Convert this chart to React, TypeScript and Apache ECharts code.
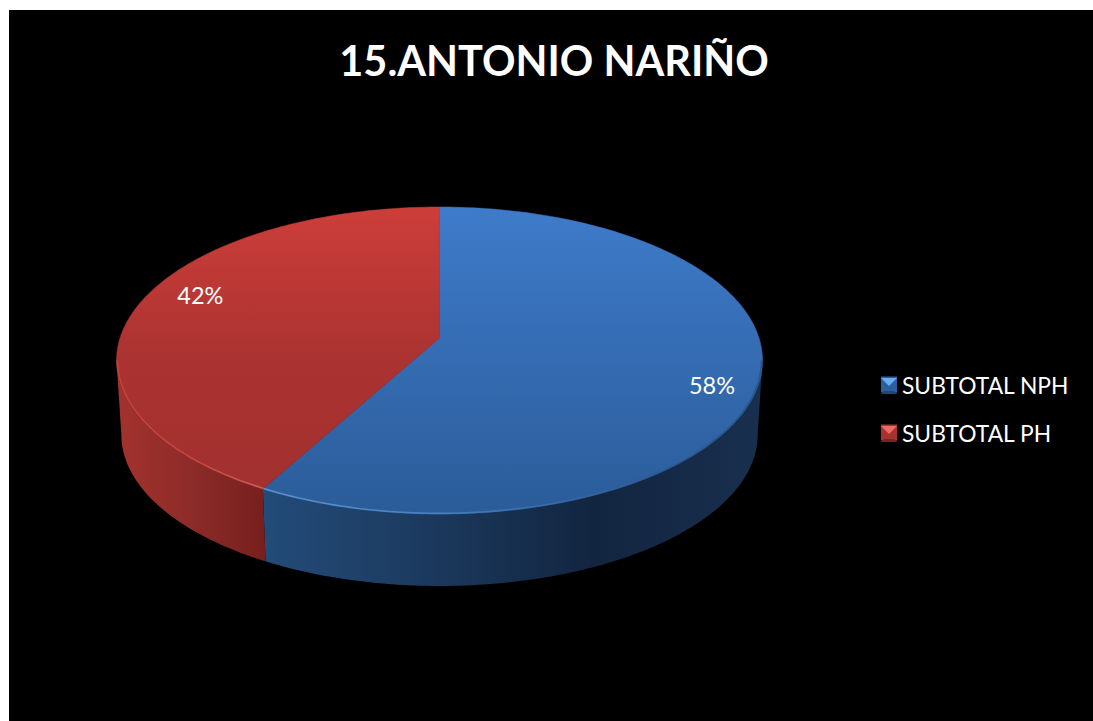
import React, { useEffect, useRef } from "react";
import * as echarts from "echarts";

const titleText = "15.ANTONIO NARIÑO";
const categories = ["SUBTOTAL NPH", "SUBTOTAL PH"];
const shares = [58, 42];

// Perspective disc: unit circle (u, v), v toward the viewer.
const CX = 439.5;
const APEX_Y = 338;
const HALF_W = 319.5;
const HALF_H = 150.2;
const PERSPECTIVE = 0.1466;
const BASE_DROP = 74.6;
const BASE_SCALE = 0.985;

const total = shares.reduce((a, b) => a + b, 0);

function project(deg: number, radius = 1, base = false) {
  const t = (deg * Math.PI) / 180;
  const u = Math.sin(t) * radius;
  const v = -Math.cos(t) * radius;
  const s = 1 / (1 - PERSPECTIVE * v);
  const k = base ? BASE_SCALE : 1;
  return [CX + HALF_W * u * s * k, APEX_Y + (base ? BASE_DROP : 0) + HALF_H * v * s * k];
}

function arc(from: number, to: number, radius = 1, base = false) {
  const pts: number[][] = [];
  const n = Math.max(2, Math.ceil(Math.abs(to - from)));
  for (let i = 0; i <= n; i++) pts.push(project(from + ((to - from) * i) / n, radius, base));
  return pts;
}

const vGrad = (stops: [number, string][]) =>
  new echarts.graphic.LinearGradient(0, 207, 0, 514, stops.map(([offset, color]) => ({ offset, color })), true);

const hGrad = (stops: [number, string][]) =>
  new echarts.graphic.LinearGradient(116, 0, 762, 0, stops.map(([offset, color]) => ({ offset, color })), true);

const palettes = [
  {
    top: vGrad([[0, "#3e7bca"], [1, "#2b5c99"]]),
    side: hGrad([[0.22, "#234c7a"], [0.5, "#1b385c"], [0.74, "#122540"], [1, "#182f4e"]]),
    rim: hGrad([[0.22, "#6a9fdc"], [0.5, "#4f88cb"], [0.78, "#2f5f9c"], [1, "#27507f"]]),
    legend: "#2c5f9f",
    labelRadius: 0.853,
    labelDrop: 14,
  },
  {
    top: vGrad([[0, "#cd3e3a"], [0.48, "#ab3331"], [1, "#a0302e"]]),
    side: hGrad([[0, "#a4322e"], [0.12, "#8c2b28"], [0.23, "#76201e"]]),
    rim: hGrad([[0, "#c9443f"], [0.12, "#cc4b45"], [0.23, "#dc6a62"]]),
    legend: "#a8322f",
    labelRadius: 0.795,
    labelDrop: -14,
  },
];

// Front half of the rim, between the two widest points of the disc.
const FRONT_START = (Math.acos(-PERSPECTIVE) * 180) / Math.PI;
const FRONT_END = 360 - FRONT_START;

function sliceRenderer(index: number) {
  return (_params: unknown, api: { value: (dim: number) => number }) => {
    const value = api.value(0);
    const before = shares.slice(0, index).reduce((a, b) => a + b, 0);
    const start = (before / total) * 360;
    const end = start + (value / total) * 360;
    const mid = (start + end) / 2;
    const look = palettes[index];
    const children: object[] = [];

    const sideFrom = Math.max(start, FRONT_START);
    const sideTo = Math.min(end, FRONT_END);
    if (sideTo > sideFrom) {
      children.push({
        type: "polygon",
        shape: { points: [...arc(sideFrom, sideTo), ...arc(sideTo, sideFrom, 1, true)] },
        style: { fill: look.side, stroke: null },
      });
    }

    const top = [project(0, 0), ...arc(start, end)];
    children.push({
      type: "polygon",
      shape: { points: top },
      style: { fill: look.top, stroke: look.top, lineWidth: 0.5 },
    });

    // Soft bevel along the visible front rim.
    if (sideTo > sideFrom) {
      children.push({
        type: "polyline",
        shape: { points: arc(sideFrom, sideTo, 0.997) },
        style: { fill: null, stroke: look.rim, lineWidth: 1.6, opacity: 0.8 },
      });
    }

    const at = project(mid, look.labelRadius);
    children.push({
      type: "text",
      style: {
        text: `${value}%`,
        x: at[0],
        y: at[1] + look.labelDrop,
        fill: "#ffffff",
        fontFamily: "Lato",
        fontSize: 23.5,
        align: "center",
        verticalAlign: "middle",
      },
    });
    return { type: "group", children };
  };
}

// Small pyramid highlight laid over a legend swatch.
function swatchBevel(x: number, y: number, light: string, dark: string) {
  const size = 16;
  return [
    {
      type: "polygon",
      z: 20,
      shape: { points: [[x, y], [x + size, y], [x + size / 2, y + size / 2]] },
      style: { fill: light },
    },
    {
      type: "polygon",
      z: 20,
      shape: { points: [[x, y + size], [x + size, y + size], [x + size - 3, y + size - 3], [x + 3, y + size - 3]] },
      style: { fill: dark },
    },
  ];
}

export default function App() {
  const ref = useRef<HTMLDivElement>(null);

  useEffect(() => {
    document.body.style.margin = "0";
    const chart = echarts.init(ref.current!, null, { renderer: "svg" });
    chart.setOption({
      animation: false,
      backgroundColor: "#ffffff",
      title: {
        text: titleText,
        left: 554,
        top: 39,
        padding: 0,
        textAlign: "center",
        textStyle: { color: "#ffffff", fontFamily: "Lato", fontWeight: "bold", fontSize: 41.5 },
      },
      legend: {
        orient: "vertical",
        left: 881,
        top: 373,
        padding: 0,
        itemWidth: 16,
        itemHeight: 16,
        itemGap: 25,
        icon: "rect",
        data: categories,
        selectedMode: false,
        textStyle: { color: "#ffffff", fontFamily: "Lato", fontSize: 22.8 },
      },
      graphic: [
        { type: "rect", z: -10, shape: { x: 9, y: 10, width: 1300, height: 900 }, style: { fill: "#000000" } },
        ...swatchBevel(881, 378, "#66aef0", "#1e477c"),
        ...swatchBevel(881, 426, "#ee6a66", "#7a2422"),
      ],
      series: categories.map((name, i) => ({
        type: "custom",
        name,
        coordinateSystem: "none",
        silent: true,
        itemStyle: { color: palettes[i].legend },
        data: [[shares[i]]],
        renderItem: sliceRenderer(i),
      })),
    });
    return () => chart.dispose();
  }, []);

  return <div ref={ref} style={{ position: "fixed", inset: 0, minWidth: 1093, minHeight: 721 }} />;
}
